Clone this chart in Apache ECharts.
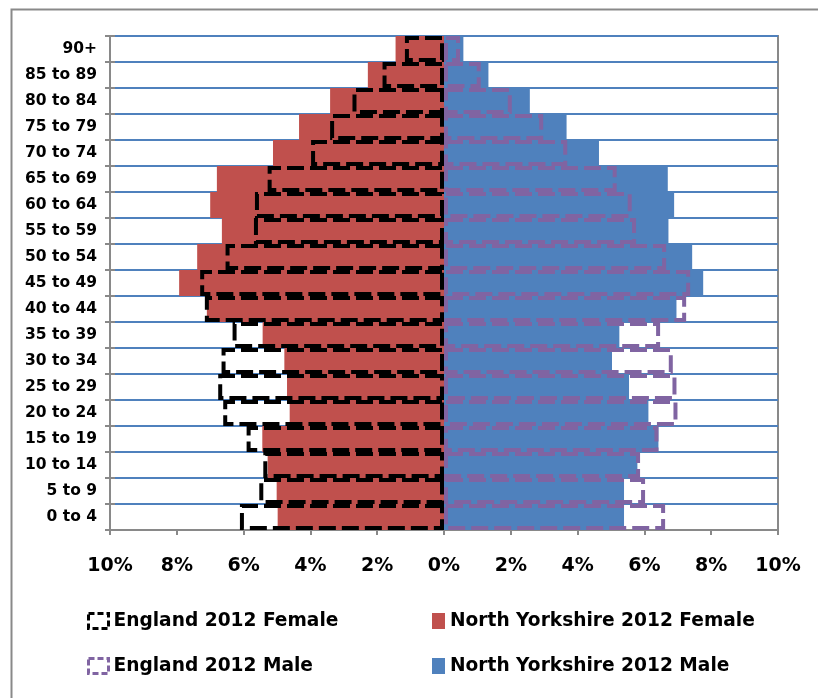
<!DOCTYPE html>
<html>
<head>
<meta charset="utf-8">
<script src="https://cdn.jsdelivr.net/npm/echarts@6/dist/echarts.min.js"></script>
<style>
html,body{margin:0;padding:0;background:#fff;}
#chart{width:818px;height:698px;}
</style>
</head>
<body>
<div id="chart"></div>
<script>
// Age groups, bottom to top
var categories = ['0 to 4','5 to 9','10 to 14','15 to 19','20 to 24','25 to 29','30 to 34','35 to 39','40 to 44','45 to 49','50 to 54','55 to 59','60 to 64','65 to 69','70 to 74','75 to 79','80 to 84','85 to 89','90+'];
// Percent of population (females shown to the left)
var nyFemale  = [4.98, 5.01, 5.28, 5.44, 4.62, 4.70, 4.78, 5.43, 7.10, 7.93, 7.39, 6.65, 7.00, 6.80, 5.12, 4.34, 3.41, 2.28, 1.45];
var engFemale = [6.11, 5.53, 5.41, 5.91, 6.61, 6.76, 6.66, 6.33, 7.16, 7.30, 6.54, 5.69, 5.66, 5.28, 3.98, 3.41, 2.74, 1.84, 1.17];
var nyMale    = [5.39, 5.39, 5.79, 6.42, 6.12, 5.54, 5.03, 5.25, 6.96, 7.76, 7.43, 6.72, 6.89, 6.70, 4.64, 3.67, 2.57, 1.33, 0.58];
var engMale   = [6.62, 6.02, 5.87, 6.42, 6.99, 6.96, 6.85, 6.47, 7.25, 7.37, 6.65, 5.75, 5.62, 5.17, 3.69, 2.97, 2.03, 1.10, 0.48];
var xTicks = [-10, -8, -6, -4, -2, 0, 2, 4, 6, 8, 10];

var FONT = '"DejaVu Sans", sans-serif';
var GRAY = '#898989';
function neg(a){ return a.map(function(v){ return -v; }); }

var chart = echarts.init(document.getElementById('chart'), null, {renderer:'canvas'});
var dash = [17, 6];
chart.setOption({
  animation: false,
  graphic: [{
    type: 'rect', left: 9, top: 7, silent: true,
    shape: {width: 840, height: 720},
    style: {fill: 'none', stroke: GRAY, lineWidth: 2}
  }],
  grid: {left: 110, right: 40, top: 36, bottom: 168, show: true, borderColor: GRAY, borderWidth: 2, backgroundColor: 'transparent'},
  legend: [{
    orient: 'vertical', left: 87, top: 611, padding: 0, itemWidth: 20, itemHeight: 15, itemGap: 25,
    icon: 'rect',
    textStyle: {fontFamily: FONT, fontWeight: 'bold', fontSize: 18.6, color: '#000', lineHeight: 20},
    data: [
      {name: 'England 2012 Female', itemStyle: {color: 'rgba(0,0,0,0)', borderColor: '#000', borderWidth: 3, borderType: [6,3]}},
      {name: 'England 2012 Male', itemStyle: {color: 'rgba(0,0,0,0)', borderColor: '#8064A2', borderWidth: 3, borderType: [6,3]}}
    ]
  }, {
    orient: 'vertical', left: 432, top: 611, padding: 0, itemWidth: 13, itemHeight: 16, itemGap: 25,
    icon: 'rect',
    textStyle: {fontFamily: FONT, fontWeight: 'bold', fontSize: 18.6, color: '#000', lineHeight: 20},
    data: ['North Yorkshire 2012 Female', 'North Yorkshire 2012 Male']
  }],
  xAxis: {
    type: 'value', min: -10, max: 10, interval: 2,
    axisLine: {show: true, lineStyle: {color: GRAY, width: 2}},
    axisTick: {show: true, length: 5, lineStyle: {color: GRAY, width: 2}},
    splitLine: {show: false},
    axisLabel: {
      margin: 27, fontFamily: FONT, fontWeight: 'bold', fontSize: 19, color: '#000',
      formatter: function(v){ return Math.abs(v) + '%'; },
      customValues: xTicks
    }
  },
  yAxis: [{
    type: 'category', data: categories, position: 'left',
    axisLine: {show: false}, axisTick: {show: false},
    splitLine: {show: true, lineStyle: {color: '#4F81BD', width: 2}},
    axisLabel: {margin: 13, fontFamily: FONT, fontWeight: 'bold', fontSize: 15.5, color: '#000'}
  }, {
    type: 'category', data: categories, position: 'left',
    axisLine: {show: true, onZero: true, lineStyle: {color: GRAY, width: 2}},
    axisTick: {show: true, length: 5, inside: false, lineStyle: {color: GRAY, width: 2}},
    axisLabel: {show: false}, splitLine: {show: false}
  }, {
    type: 'category', data: categories, position: 'left',
    axisLine: {show: false, onZero: true},
    axisTick: {show: true, length: 5, inside: true, lineStyle: {color: GRAY, width: 2}},
    axisLabel: {show: false}, splitLine: {show: false}
  }],
  series: [{
    name: 'North Yorkshire 2012 Female', type: 'bar', data: neg(nyFemale),
    barGap: '-100%', barCategoryGap: '0%',
    itemStyle: {color: '#C0504D'}, z: 2
  }, {
    name: 'North Yorkshire 2012 Male', type: 'bar', data: nyMale,
    barGap: '-100%', barCategoryGap: '0%',
    itemStyle: {color: '#4F81BD'}, z: 2
  }, {
    name: 'England 2012 Female', type: 'bar', data: neg(engFemale),
    barGap: '-100%', barCategoryGap: '0%',
    itemStyle: {color: 'rgba(0,0,0,0)', borderColor: '#000', borderWidth: 4, borderType: dash}, z: 3
  }, {
    name: 'England 2012 Male', type: 'bar', data: engMale,
    barGap: '-100%', barCategoryGap: '0%',
    itemStyle: {color: 'rgba(0,0,0,0)', borderColor: '#8064A2', borderWidth: 4, borderType: dash}, z: 3
  }]
});
</script>
</body>
</html>
